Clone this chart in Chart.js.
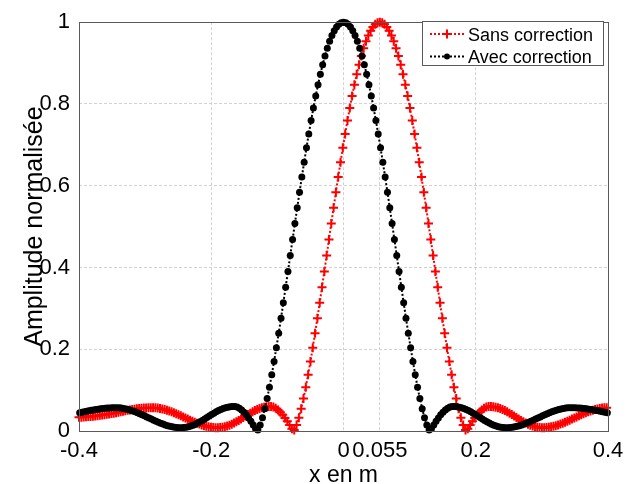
<!DOCTYPE html>
<html><head><meta charset="utf-8">
<script src="https://cdn.jsdelivr.net/npm/chart.js@4.4.1/dist/chart.umd.min.js"></script>
<style>html,body{margin:0;padding:0;background:#fff;overflow:hidden}canvas{display:block}</style>
</head><body>
<canvas id="c" width="632" height="484"></canvas>
<script>
// x positions of the "Avec correction" samples
const xAvec = [
-0.399,-0.3955,-0.392,-0.3885,-0.385,-0.3815,-0.378,-0.3745,-0.371,-0.3675,
-0.364,-0.3605,-0.357,-0.3535,-0.35,-0.3465,-0.343,-0.3395,-0.336,-0.3325,
-0.329,-0.3255,-0.322,-0.3185,-0.315,-0.3115,-0.308,-0.3045,-0.301,-0.2975,
-0.294,-0.2905,-0.287,-0.2835,-0.28,-0.2765,-0.273,-0.2695,-0.266,-0.2625,
-0.259,-0.2555,-0.252,-0.2485,-0.245,-0.2415,-0.238,-0.2345,-0.231,-0.2275,
-0.224,-0.2205,-0.217,-0.2135,-0.21,-0.2065,-0.203,-0.1995,-0.196,-0.1925,
-0.189,-0.1855,-0.182,-0.1785,-0.175,-0.1715,-0.168,-0.1645,-0.161,-0.1575,
-0.154,-0.1505,-0.147,-0.1435,-0.14,-0.1365,-0.133,-0.1295,-0.126,-0.1225,
-0.119,-0.1155,-0.112,-0.1085,-0.105,-0.1015,-0.098,-0.0945,-0.091,-0.0875,
-0.084,-0.0805,-0.077,-0.0735,-0.07,-0.0665,-0.063,-0.0595,-0.056,-0.0525,
-0.049,-0.0455,-0.042,-0.0385,-0.035,-0.0315,-0.028,-0.0245,-0.021,-0.0175,
-0.014,-0.0105,-0.007,-0.0035,0,
0.0035,0.007,0.0105,0.014,0.0175,0.021,0.0245,0.028,0.0315,0.035,
0.0385,0.042,0.0455,0.049,0.0525,0.056,0.0595,0.063,0.0665,0.07,
0.0735,0.077,0.0805,0.084,0.0875,0.091,0.0945,0.098,0.1015,0.105,
0.1085,0.112,0.1155,0.119,0.1225,0.126,0.1295,0.133,0.1365,0.14,
0.1435,0.147,0.1505,0.154,0.1575,0.161,0.1645,0.168,0.1715,0.175,
0.1785,0.182,0.1855,0.189,0.1925,0.196,0.1995,0.203,0.2065,0.21,
0.2135,0.217,0.2205,0.224,0.2275,0.231,0.2345,0.238,0.2415,0.245,
0.2485,0.252,0.2555,0.259,0.2625,0.266,0.2695,0.273,0.2765,0.28,
0.2835,0.287,0.2905,0.294,0.2975,0.301,0.3045,0.308,0.3115,0.315,
0.3185,0.322,0.3255,0.329,0.3325,0.336,0.3395,0.343,0.3465,0.35,
0.3535,0.357,0.3605,0.364,0.3675,0.371,0.3745,0.378,0.3815,0.385,
0.3885,0.392,0.3955,0.399];

const avecCorrection = [
0.0448,0.0460,0.0472,0.0484,0.0495,0.0506,0.0516,0.0525,0.0535,0.0543,
0.0550,0.0556,0.0561,0.0565,0.0568,0.0570,0.0570,0.0566,0.0560,0.0551,
0.0540,0.0525,0.0509,0.0490,0.0469,0.0446,0.0422,0.0397,0.0371,0.0344,
0.0317,0.0291,0.0264,0.0238,0.0214,0.0191,0.0169,0.0149,0.0131,0.0116,
0.0103,0.0093,0.0086,0.0082,0.0080,0.0083,0.0090,0.0102,0.0120,0.0141,
0.0166,0.0194,0.0225,0.0259,0.0294,0.0330,0.0366,0.0401,0.0436,0.0468,
0.0499,0.0526,0.0549,0.0569,0.0584,0.0594,0.0599,0.0599,0.0585,0.0557,
0.0515,0.0461,0.0395,0.0319,0.0236,0.0147,0.0054,0.0024,0.0147,0.0325,
0.0543,0.0794,0.1073,0.1376,0.1699,0.2039,0.2393,0.2759,0.3135,0.3517,
0.3904,0.4294,0.4685,0.5074,0.5459,0.5839,0.6211,0.6575,0.6927,0.7267,
0.7593,0.7903,0.8197,0.8472,0.8727,0.8962,0.9174,0.9364,0.9531,0.9673,
0.9790,0.9882,0.9947,0.9987,1.0000,
0.9987,0.9947,0.9882,0.9790,0.9673,0.9531,0.9364,0.9174,0.8962,0.8727,
0.8472,0.8197,0.7903,0.7593,0.7267,0.6927,0.6575,0.6211,0.5839,0.5459,
0.5074,0.4685,0.4294,0.3904,0.3517,0.3135,0.2759,0.2393,0.2039,0.1699,
0.1376,0.1073,0.0794,0.0543,0.0325,0.0147,0.0024,0.0054,0.0147,0.0236,
0.0319,0.0395,0.0461,0.0515,0.0557,0.0585,0.0599,0.0599,0.0594,0.0584,
0.0569,0.0549,0.0526,0.0499,0.0468,0.0436,0.0401,0.0366,0.0330,0.0294,
0.0259,0.0225,0.0194,0.0166,0.0141,0.0120,0.0102,0.0090,0.0083,0.0080,
0.0082,0.0086,0.0093,0.0103,0.0116,0.0131,0.0149,0.0169,0.0191,0.0214,
0.0238,0.0264,0.0291,0.0317,0.0344,0.0371,0.0397,0.0422,0.0446,0.0469,
0.0490,0.0509,0.0525,0.0540,0.0551,0.0560,0.0566,0.0570,0.0570,0.0568,
0.0565,0.0561,0.0556,0.0550,0.0543,0.0535,0.0525,0.0516,0.0506,0.0495,
0.0484,0.0472,0.0460,0.0448];

// x positions of the "Sans correction" samples
const xSans = [
-0.4,-0.3965,-0.393,-0.3895,-0.386,-0.3825,-0.379,-0.3755,-0.372,-0.3685,
-0.365,-0.3615,-0.358,-0.3545,-0.351,-0.3475,-0.344,-0.3405,-0.337,-0.3335,
-0.33,-0.3265,-0.323,-0.3195,-0.316,-0.3125,-0.309,-0.3055,-0.302,-0.2985,
-0.295,-0.2915,-0.288,-0.2845,-0.281,-0.2775,-0.274,-0.2705,-0.267,-0.2635,
-0.26,-0.2565,-0.253,-0.2495,-0.246,-0.2425,-0.239,-0.2355,-0.232,-0.2285,
-0.225,-0.2215,-0.218,-0.2145,-0.211,-0.2075,-0.204,-0.2005,-0.197,-0.1935,
-0.19,-0.1865,-0.183,-0.1795,-0.176,-0.1725,-0.169,-0.1655,-0.162,-0.1585,
-0.155,-0.1515,-0.148,-0.1445,-0.141,-0.1375,-0.134,-0.1305,-0.127,-0.1235,
-0.12,-0.1165,-0.113,-0.1095,-0.106,-0.1025,-0.099,-0.0955,-0.092,-0.0885,
-0.085,-0.0815,-0.078,-0.0745,-0.071,-0.0675,-0.064,-0.0605,-0.057,-0.0535,
-0.05,-0.0465,-0.043,-0.0395,-0.036,-0.0325,-0.029,-0.0255,-0.022,-0.0185,
-0.015,-0.0115,-0.008,-0.0045,-0.001,0.0025,0.006,0.0095,0.013,0.0165,
0.02,0.0235,0.027,0.0305,0.034,0.0375,0.041,0.0445,0.048,0.0515,
0.055,0.0585,0.062,0.0655,0.069,0.0725,0.076,0.0795,0.083,0.0865,
0.09,0.0935,0.097,0.1005,0.104,0.1075,0.111,0.1145,0.118,0.1215,
0.125,0.1285,0.132,0.1355,0.139,0.1425,0.146,0.1495,0.153,0.1565,
0.16,0.1635,0.167,0.1705,0.174,0.1775,0.181,0.1845,0.188,0.1915,
0.195,0.1985,0.202,0.2055,0.209,0.2125,0.216,0.2195,0.223,0.2265,
0.23,0.2335,0.237,0.2405,0.244,0.2475,0.251,0.2545,0.258,0.2615,
0.265,0.2685,0.272,0.2755,0.279,0.2825,0.286,0.2895,0.293,0.2965,
0.3,0.3035,0.307,0.3105,0.314,0.3175,0.321,0.3245,0.328,0.3315,
0.335,0.3385,0.342,0.3455,0.349,0.3525,0.356,0.3595,0.363,0.3665,
0.37,0.3735,0.377,0.3805,0.384,0.3875,0.391,0.3945,0.398];

const sansCorrection = [
0.0335,0.0338,0.0342,0.0347,0.0352,0.0357,0.0363,0.0369,0.0376,0.0383,
0.0391,0.0399,0.0408,0.0417,0.0427,0.0437,
0.0448,0.0460,0.0472,0.0484,0.0495,0.0506,0.0516,0.0525,0.0535,0.0543,
0.0550,0.0556,0.0561,0.0565,0.0568,0.0570,0.0570,0.0566,0.0560,0.0551,
0.0540,0.0525,0.0509,0.0490,0.0469,0.0446,0.0422,0.0397,0.0371,0.0344,
0.0317,0.0291,0.0264,0.0238,0.0214,0.0191,0.0169,0.0149,0.0131,0.0116,
0.0103,0.0093,0.0086,0.0082,0.0080,0.0083,0.0090,0.0102,0.0120,0.0141,
0.0166,0.0194,0.0225,0.0259,0.0294,0.0330,0.0366,0.0401,0.0436,0.0468,
0.0499,0.0526,0.0549,0.0569,0.0584,0.0594,0.0599,0.0599,0.0585,0.0557,
0.0515,0.0461,0.0395,0.0319,0.0236,0.0147,0.0054,0.0024,0.0147,0.0325,
0.0543,0.0794,0.1073,0.1376,0.1699,0.2039,0.2393,0.2759,0.3135,0.3517,
0.3904,0.4294,0.4685,0.5074,0.5459,0.5839,0.6211,0.6575,0.6927,0.7267,
0.7593,0.7903,0.8197,0.8472,0.8727,0.8962,0.9174,0.9364,0.9531,0.9673,
0.9790,0.9882,0.9947,0.9987,1.0000,
0.9987,0.9947,0.9882,0.9790,0.9673,0.9531,0.9364,0.9174,0.8962,0.8727,
0.8472,0.8197,0.7903,0.7593,0.7267,0.6927,0.6575,0.6211,0.5839,0.5459,
0.5074,0.4685,0.4294,0.3904,0.3517,0.3135,0.2759,0.2393,0.2039,0.1699,
0.1376,0.1073,0.0794,0.0543,0.0325,0.0147,0.0024,0.0054,0.0147,0.0236,
0.0319,0.0395,0.0461,0.0515,0.0557,0.0585,0.0599,0.0599,0.0594,0.0584,
0.0569,0.0549,0.0526,0.0499,0.0468,0.0436,0.0401,0.0366,0.0330,0.0294,
0.0259,0.0225,0.0194,0.0166,0.0141,0.0120,0.0102,0.0090,0.0083,0.0080,
0.0082,0.0086,0.0093,0.0103,0.0116,0.0131,0.0149,0.0169,0.0191,0.0214,
0.0238,0.0264,0.0291,0.0317,0.0344,0.0371,0.0397,0.0422,0.0446,0.0469,
0.0490,0.0509,0.0525,0.0540,0.0551,0.0560,0.0566,0.0570];

const seriesNames = ['Sans correction', 'Avec correction'];
const xTickValues = [-0.4, -0.2, 0, 0.055, 0.2, 0.4];
const xTickLabels = ['-0.4', '-0.2', '0', '0.055', '0.2', '0.4'];
const yTickValues = [0, 0.2, 0.4, 0.6, 0.8, 1];
const yTickLabels = ['0', '0.2', '0.4', '0.6', '0.8', '1'];
const xTitle = 'x en m';
const yTitle = 'Amplitude normalisée';

const FONT = 'Arial, "Liberation Sans", Helvetica, sans-serif';
const RED = '#ff0000';
const BLACK = '#000000';

function toPoints(xs, ys) { return xs.map((x, i) => ({ x: x, y: ys[i] })); }

function drawMarker(ctx, style, x, y, color) {
  ctx.save();
  if (style === 'cross') {
    ctx.strokeStyle = color; ctx.lineWidth = 2;
    ctx.beginPath();
    ctx.moveTo(x - 4.5, y); ctx.lineTo(x + 4.5, y);
    ctx.moveTo(x, y - 4.5); ctx.lineTo(x, y + 4.5);
    ctx.stroke();
  } else {
    ctx.fillStyle = color;
    ctx.beginPath(); ctx.arc(x, y, 3, 0, Math.PI * 2); ctx.fill();
  }
  ctx.restore();
}

const framePlugin = {
  id: 'frameLegend',
  afterDatasetsDraw(chart) {
    const { ctx, chartArea: a } = chart;
    ctx.save();
    ctx.strokeStyle = '#5a5a5a';
    ctx.lineWidth = 1;
    ctx.strokeRect(Math.round(a.left) + 0.5, Math.round(a.top) + 0.5,
                   Math.round(a.right - a.left), Math.round(a.bottom - a.top));
    ctx.restore();
  },
  afterDraw(chart) {
    const ctx = chart.ctx;
    const bx = 422, by = 21, bw = 181, bh = 44;
    ctx.save();
    ctx.fillStyle = '#fff';
    ctx.fillRect(bx, by, bw, bh);
    ctx.strokeStyle = '#5a5a5a';
    ctx.lineWidth = 1;
    ctx.strokeRect(bx + 0.5, by + 0.5, bw, bh);
    const entries = [
      { name: seriesNames[0], color: RED, style: 'cross', y: 34 },
      { name: seriesNames[1], color: BLACK, style: 'circle', y: 56.5 }
    ];
    entries.forEach(e => {
      ctx.save();
      ctx.strokeStyle = e.color; ctx.lineWidth = 2; ctx.setLineDash([2, 2]);
      ctx.beginPath(); ctx.moveTo(430, e.y); ctx.lineTo(464, e.y); ctx.stroke();
      ctx.restore();
      drawMarker(ctx, e.style, 447, e.y, e.color);
      ctx.fillStyle = '#000';
      ctx.font = '18px ' + FONT;
      ctx.textBaseline = 'alphabetic';
      ctx.textAlign = 'left';
      ctx.fillText(e.name, 468, e.y + 6.5);
    });
    ctx.restore();
  }
};

new Chart(document.getElementById('c'), {
  type: 'line',
  data: {
    datasets: [
      {
        label: seriesNames[0],
        data: toPoints(xSans, sansCorrection),
        borderColor: RED, backgroundColor: RED,
        borderWidth: 2, borderDash: [2, 2],
        pointStyle: 'cross', pointRadius: 4.5, pointBorderWidth: 2,
        pointBorderColor: RED, pointBackgroundColor: RED,
        tension: 0, fill: false, clip: false, order: 1
      },
      {
        label: seriesNames[1],
        data: toPoints(xAvec, avecCorrection),
        borderColor: BLACK, backgroundColor: BLACK,
        borderWidth: 2, borderDash: [2, 2],
        pointStyle: 'circle', pointRadius: 3.5, pointBorderWidth: 0,
        pointBorderColor: BLACK, pointBackgroundColor: BLACK,
        tension: 0, fill: false, clip: false, order: 0
      }
    ]
  },
  options: {
    responsive: false,
    animation: false,
    events: [],
    layout: { padding: { left: 0, top: 15, right: 24, bottom: 0 } },
    plugins: { legend: { display: false }, tooltip: { enabled: false } },
    scales: {
      x: {
        type: 'linear', min: -0.4, max: 0.4,
        afterBuildTicks(scale) { scale.ticks = xTickValues.map(v => ({ value: v })); },
        afterFit(scale) { scale.height = 53; },
        ticks: {
          autoSkip: false, maxRotation: 0, minRotation: 0, padding: 7,
          color: '#000', font: { family: FONT, size: 22 },
          callback(v) { const i = xTickValues.indexOf(v); return i >= 0 ? xTickLabels[i] : ''; }
        },
        grid: { color: '#d2d2d2', lineWidth: 1, drawTicks: false },
        border: { display: false, dash: [3, 2] },
        title: {
          display: true, text: xTitle, color: '#000',
          font: { family: FONT, size: 23, lineHeight: '16px' },
          padding: { top: 0, bottom: 0 }
        }
      },
      y: {
        type: 'linear', min: 0, max: 1,
        afterBuildTicks(scale) { scale.ticks = yTickValues.map(v => ({ value: v })); },
        afterFit(scale) { scale.width = 79; },
        ticks: {
          autoSkip: false, padding: 9,
          color: '#000', font: { family: FONT, size: 22 },
          callback(v) { const i = yTickValues.indexOf(v); return i >= 0 ? yTickLabels[i] : ''; }
        },
        grid: { color: '#d2d2d2', lineWidth: 1, drawTicks: false },
        border: { display: false, dash: [3, 2] },
        title: {
          display: true, text: yTitle, color: '#000',
          font: { family: FONT, size: 25, lineHeight: '20px' },
          padding: { top: 25, bottom: 0 }
        }
      }
    }
  },
  plugins: [framePlugin]
});
</script>
</body></html>
